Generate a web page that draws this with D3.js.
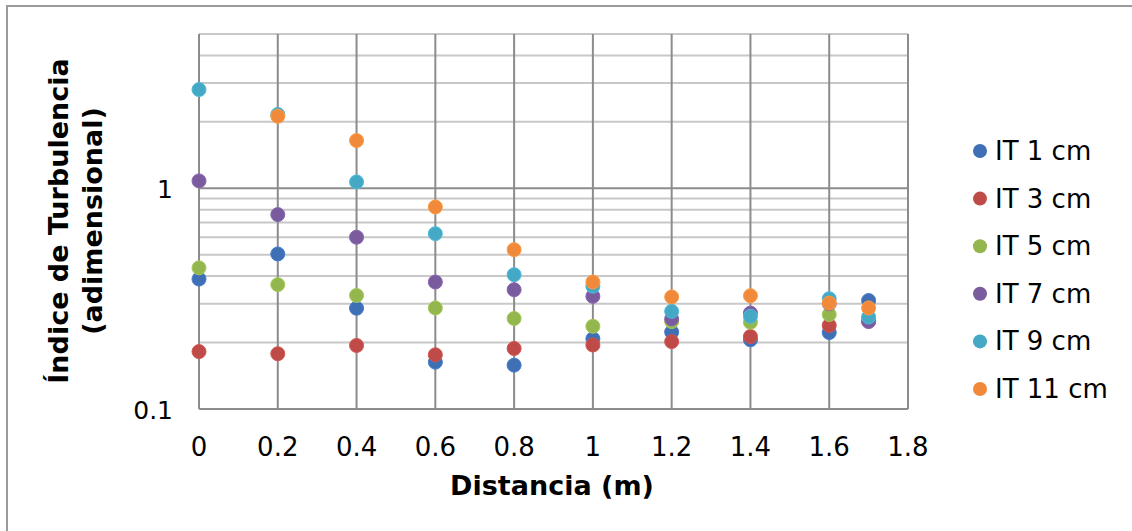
<!DOCTYPE html>
<html><head><meta charset="utf-8">
<script src="https://cdn.jsdelivr.net/npm/d3@7"></script>
<style>body{margin:0;background:#fff;}svg{display:block;font-family:"DejaVu Sans",Verdana,sans-serif;}</style>
</head><body>
<svg id="c" width="1132" height="531"></svg>
<script>
const distances = [0, 0.2, 0.4, 0.6, 0.8, 1.0, 1.2, 1.4, 1.6, 1.7];
const seriesNames = ["IT 1 cm", "IT 3 cm", "IT 5 cm", "IT 7 cm", "IT 9 cm", "IT 11 cm"];
const it1  = [0.388, 0.504, 0.286, 0.163, 0.158, 0.208, 0.223, 0.206, 0.222, 0.310];
const it3  = [0.182, 0.178, 0.194, 0.176, 0.188, 0.195, 0.202, 0.213, 0.239, 0.250];
const it5  = [0.436, 0.366, 0.327, 0.287, 0.257, 0.237, 0.249, 0.247, 0.268, 0.258];
const it7  = [1.08, 0.760, 0.600, 0.376, 0.347, 0.324, 0.256, 0.272, 0.300, 0.249];
const it9  = [2.80, 2.16, 1.069, 0.623, 0.406, 0.360, 0.277, 0.263, 0.316, 0.261];
const it11 = [null, 2.12, 1.645, 0.823, 0.527, 0.376, 0.322, 0.326, 0.302, 0.287];
const xTicks = [0, 0.2, 0.4, 0.6, 0.8, 1, 1.2, 1.4, 1.6, 1.8];
const yMajor = [0.1, 1];
const yMinor = [0.2,0.3,0.4,0.5,0.6,0.7,0.8,0.9,2,3,4,5];
const colors = ["#3F6FB5", "#BE4B48", "#94B64F", "#7A5C9E", "#45A8C4", "#F08A3A"];

const allSeries = [it1, it3, it5, it7, it9, it11];
const svg = d3.select("#c");

// outer border
svg.append("path").attr("d","M7,531V6H1140").attr("fill","none").attr("stroke","#9a9a9a").attr("stroke-width",2);

const x = d3.scaleLinear().domain([0, 1.8]).range([199, 908]);
const y = d3.scaleLog().domain([0.1, 5]).range([409, 34]);

// minor horizontal grid
svg.append("g").selectAll("line").data(yMinor).join("line")
  .attr("x1", x(0)).attr("x2", x(1.8))
  .attr("y1", d=>y(d)).attr("y2", d=>y(d))
  .attr("stroke","#c8c8c8").attr("stroke-width",2);
// major horizontal grid
svg.append("g").selectAll("line").data(yMajor).join("line")
  .attr("x1", x(0)).attr("x2", x(1.8))
  .attr("y1", d=>y(d)).attr("y2", d=>y(d))
  .attr("stroke","#8c8c8c").attr("stroke-width",2);
// vertical grid
svg.append("g").selectAll("line").data(xTicks).join("line")
  .attr("x1", d=>x(d)).attr("x2", d=>x(d))
  .attr("y1", y(5)).attr("y2", y(0.1))
  .attr("stroke","#8c8c8c").attr("stroke-width",2);

// x tick labels
svg.append("g").selectAll("text").data(xTicks).join("text")
  .attr("x", d=>x(d)).attr("y", 456).attr("text-anchor","middle")
  .attr("font-size", 26).attr("fill","#000").text(d=>d3.format("")(d));
// y tick labels
svg.append("g").selectAll("text").data(yMajor).join("text")
  .attr("x", 173).attr("y", d=>y(d)+9.5).attr("text-anchor","end")
  .attr("font-size", 25).attr("fill","#000").text(d=>String(d));

// axis titles
svg.append("text").attr("x", 552).attr("y", 495).attr("text-anchor","middle")
  .attr("font-size", 27).attr("font-weight","bold").text("Distancia (m)");
const yt = svg.append("text").attr("transform","translate(0,221) rotate(-90)")
  .attr("text-anchor","middle").attr("font-size", 27).attr("font-weight","bold");
yt.append("tspan").attr("x",0).attr("y",68).text("Índice de Turbulencia");
yt.append("tspan").attr("x",0).attr("y",102).text("(adimensional)");

// points
allSeries.forEach((vals, i) => {
  svg.append("g").selectAll("circle")
    .data(vals.map((v,j)=>({x:distances[j], v})).filter(d=>d.v!=null))
    .join("circle")
    .attr("cx", d=>x(d.x)).attr("cy", d=>y(d.v)).attr("r", 7)
    .attr("fill", colors[i]).attr("stroke", d3.color(colors[i]).brighter(0.3)).attr("stroke-width",1);
});

// legend
const lg = svg.append("g");
seriesNames.forEach((n,i)=>{
  const ly = 151 + i*47.6;
  lg.append("circle").attr("cx",980).attr("cy",ly).attr("r",7).attr("fill",colors[i]);
  lg.append("text").attr("x",995).attr("y",ly+9).attr("font-size",26).attr("fill","#000").text(n);
});
</script>
</body></html>
